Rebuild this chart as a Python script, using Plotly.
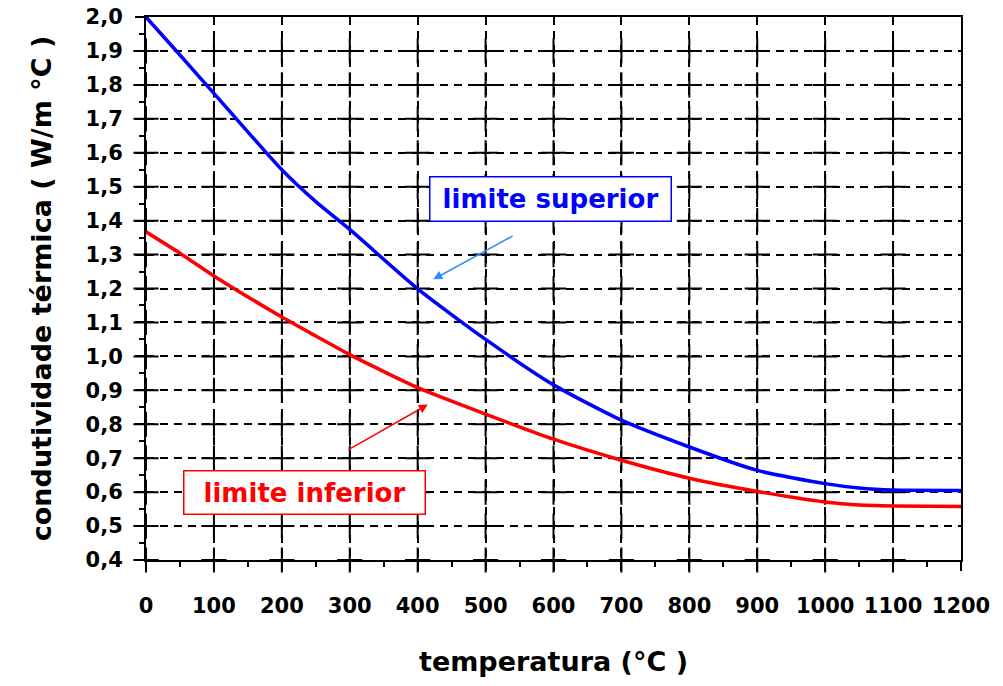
import plotly.graph_objects as go

# Thermal conductivity bounds versus temperature
temperatura = [0, 50, 100, 200, 250, 300, 400, 500, 600, 700, 800, 900, 1000, 1050, 1100, 1200]
limite_superior = [2.000, 1.888, 1.775, 1.550, 1.456, 1.374, 1.199, 1.050, 0.916, 0.812,
                   0.733, 0.664, 0.625, 0.612, 0.606, 0.605]
limite_inferior = [1.367, 1.304, 1.237, 1.116, 1.060, 1.005, 0.908, 0.830, 0.756, 0.694,
                   0.641, 0.602, 0.571, 0.562, 0.559, 0.558]

x_ticks = list(range(0, 1201, 100))
y_ticks = [round(0.4 + 0.1 * i, 1) for i in range(17)]

FONT = "DejaVu Sans"

fig = go.Figure()

# "+" marks where the dashed grid lines cross (and on the left / bottom axes)
cx, cy = [], []
for xv in x_ticks[:-1]:
    for yv in y_ticks[:-1]:
        cx.append(xv)
        cy.append(yv)
fig.add_trace(go.Scatter(
    x=cx, y=cy, mode="markers", hoverinfo="skip", showlegend=False,
    cliponaxis=False,
    marker=dict(symbol="cross-thin", size=18, color="black",
                line=dict(color="black", width=2)),
))

fig.add_trace(go.Scatter(
    x=temperatura, y=limite_inferior, mode="lines", name="limite inferior",
    line=dict(color="#FF0000", width=3.5, shape="spline", smoothing=0.6),
    showlegend=False,
))
fig.add_trace(go.Scatter(
    x=temperatura, y=limite_superior, mode="lines", name="limite superior",
    line=dict(color="#0000FF", width=3.5, shape="spline", smoothing=0.6),
    showlegend=False,
))

# Labelled boxes
fig.add_annotation(
    x=595, y=1.463, xref="x", yref="y", text="<b>limite superior</b>",
    showarrow=False, font=dict(family=FONT, size=26, color="#0000FF"),
    bordercolor="#0000FF", borderwidth=1.5, borderpad=0, bgcolor="white",
    width=240, height=43,
)
fig.add_annotation(
    x=233, y=0.600, xref="x", yref="y", text="<b>limite inferior</b>",
    showarrow=False, font=dict(family=FONT, size=26, color="#FF0000"),
    bordercolor="#FF0000", borderwidth=1.5, borderpad=0, bgcolor="white",
    width=240, height=42,
)

# Pointer arrows
fig.add_annotation(
    x=423, y=1.227, ax=542, ay=1.357, xref="x", yref="y", axref="x", ayref="y",
    text="", showarrow=True, arrowhead=2, arrowsize=1.2, arrowwidth=1.5,
    arrowcolor="#2E8BFF",
)
fig.add_annotation(
    x=415, y=0.858, ax=296, ay=0.723, xref="x", yref="y", axref="x", ayref="y",
    text="", showarrow=True, arrowhead=2, arrowsize=1.2, arrowwidth=1.5,
    arrowcolor="#FF0000",
)

axis_common = dict(
    showline=True, linecolor="black", linewidth=2, mirror=True,
    showgrid=True, gridcolor="black", gridwidth=2, griddash="8px,6px",
    zeroline=False, ticks="outside", ticklen=9, tickwidth=2, tickcolor="black",
    tickfont=dict(family=FONT, size=21, color="black", weight="bold"),
)

fig.update_xaxes(
    range=[0, 1200], tickvals=x_ticks, ticktext=[str(v) for v in x_ticks],
    ticklabelstandoff=17,
    minor=dict(dtick=50, ticks="outside", ticklen=5, tickwidth=2,
               tickcolor="black", showgrid=False),
    title=dict(text="<b>temperatura (°C )</b>", standoff=35,
               font=dict(family=FONT, size=27, color="black")),
    **axis_common,
)
fig.update_yaxes(
    range=[0.4, 2.0], tickvals=y_ticks, tickformat=".1f",
    ticklabelstandoff=8,
    minor=dict(dtick=0.05, ticks="outside", ticklen=5, tickwidth=2,
               tickcolor="black", showgrid=False),
    title=dict(text="<b>condutividade térmica ( W/m °C )</b>", standoff=26,
               font=dict(family=FONT, size=27, color="black")),
    **axis_common,
)

fig.update_layout(
    width=1003, height=686,
    margin=dict(l=146, r=42, t=17, b=126, autoexpand=False),
    paper_bgcolor="white", plot_bgcolor="white",
    separators=",.",
    showlegend=False,
)

fig.write_html("out.html")
